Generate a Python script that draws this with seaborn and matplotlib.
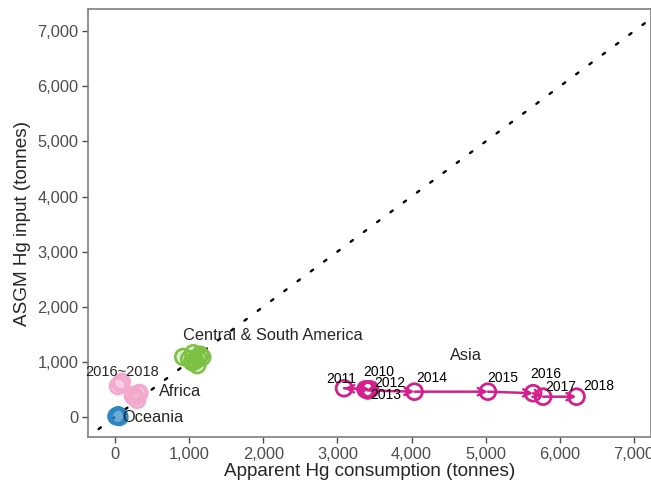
import numpy as np
import pandas as pd
import seaborn as sns
import matplotlib.pyplot as plt

# region points (tonnes)
oceania_x = [20, 45, 60, 35]
oceania_y = [10, 30, 0, 20]
africa_x = [250, 300, 330, 280, 310, 240, 90, 40, 70]
africa_y = [400, 310, 435, 360, 420, 380, 640, 560, 600]
csa_x = [920, 1055, 1123, 1110, 1177, 1042, 1000, 1150, 1080]
csa_y = [1090, 1157, 1067, 940, 1085, 995, 1050, 1130, 1020]

asia_years = ["2010", "2011", "2012", "2013", "2014", "2015", "2016", "2017", "2018"]
asia_x = [3380, 3090, 3440, 3410, 4040, 5030, 5640, 5775, 6225]
asia_y = [500, 520, 500, 480, 458, 458, 430, 367, 367]

# label offsets in pixels for Asia years
year_off = [(13, 17), (-3, 9), (20, 6), (18, -5), (17, 14), (15, 14), (13, 19), (18, 10), (22, 11)]

df = pd.DataFrame({
    "x": oceania_x + africa_x + csa_x,
    "y": oceania_y + africa_y + csa_y,
    "region": ["Oceania"] * len(oceania_x) + ["Africa"] * len(africa_x) + ["Central & South America"] * len(csa_x),
})
pal = {"Oceania": "#2b86c5", "Africa": "#f2a9cd", "Central & South America": "#7cc142"}
asia_col = "#d41f8c"

sns.set_style("white")
plt.rcParams['font.family'] = ['Liberation Sans', 'DejaVu Sans']

fig = plt.figure(figsize=(6.51, 4.87), dpi=100)
ax = fig.add_axes([0.135, 0.103, 0.865, 0.878])

ax.plot([-400, 7400], [-400, 7400], ls=(0, (1.2, 5.8)), lw=1.7, color="black", zorder=1,
        dash_capstyle="round")

for reg, col in pal.items():
    sub = df[df.region == reg]
    sns.scatterplot(data=sub, x="x", y="y", ax=ax, s=130, facecolor=col, edgecolor=col,
                    linewidth=1.8, alpha=0.25, legend=False, zorder=2)
    sns.scatterplot(data=sub, x="x", y="y", ax=ax, s=130, facecolor="none", edgecolor=col,
                    linewidth=1.8, legend=False, zorder=3)

# Asia path with arrows
for i in range(len(asia_x) - 1):
    ax.annotate("", xy=(asia_x[i + 1], asia_y[i + 1]), xytext=(asia_x[i], asia_y[i]),
                arrowprops=dict(arrowstyle="->", color=asia_col, lw=1.8, shrinkA=0, shrinkB=0,
                                mutation_scale=13), zorder=4)
sns.scatterplot(x=asia_x, y=asia_y, ax=ax, s=130, facecolor="none", edgecolor=asia_col,
                linewidth=2, legend=False, zorder=5)
for yr, xx, yy, off in zip(asia_years, asia_x, asia_y, year_off):
    ax.annotate(yr, (xx, yy), xytext=off, textcoords="offset pixels", ha="center", va="center",
                fontsize=10, color="black", zorder=6)

ax.text(2125, 1480, "Central & South America", ha="center", va="center", fontsize=11.8)
ax.text(4740, 1120, "Asia", ha="center", va="center", fontsize=11.8)
ax.text(600, 470, "Africa", ha="left", va="center", fontsize=11.8)
ax.text(100, -20, "Oceania", ha="left", va="center", fontsize=11.8)
ax.text(95, 815, "2016~2018", ha="center", va="center", fontsize=10.5)

ax.set_xlim(-365, 7230)
ax.set_ylim(-362, 7400)
ticks = np.arange(0, 7001, 1000)
ax.set_xticks(ticks)
ax.set_yticks(ticks)
ax.set_xticklabels([f"{t:,}" for t in ticks])
ax.set_yticklabels([f"{t:,}" for t in ticks])
ax.tick_params(axis="both", colors="#4d4d4d", labelsize=11.8, length=4, width=1,
               bottom=True, left=True, labelcolor="#4d4d4d", pad=3)
for sp in ax.spines.values():
    sp.set_color("#7f7f7f")
    sp.set_linewidth(1.2)

ax.set_xlabel("Apparent Hg consumption (tonnes)", fontsize=13.6, labelpad=1)
ax.set_ylabel("ASGM Hg input (tonnes)", fontsize=13.6, labelpad=4)

fig.savefig("out.png", dpi=100)
